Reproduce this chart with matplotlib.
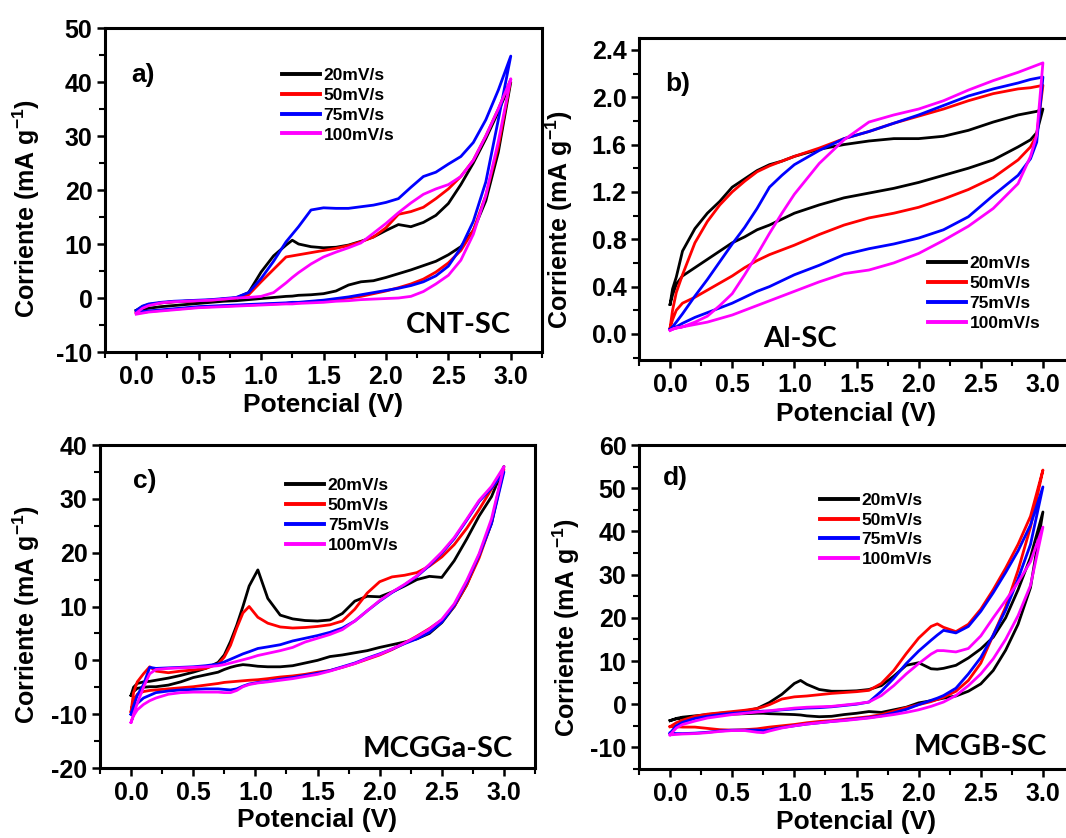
import numpy as np
import matplotlib
matplotlib.use("Agg")
import matplotlib.pyplot as plt
from matplotlib.ticker import MultipleLocator, FormatStrFormatter

# ---------------- data ----------------
rates = ["20mV/s", "50mV/s", "75mV/s", "100mV/s"]
colors = ["#000000", "#ff0000", "#0000ff", "#ff00ff"]

# panel a) CNT-SC
Ea = [0, 0.05, 0.1, 0.2, 0.3, 0.4, 0.5, 0.6, 0.7, 0.8, 0.9, 1.0, 1.1, 1.2, 1.25, 1.3, 1.4, 1.5, 1.6,
      1.7, 1.8, 1.9, 2.0, 2.1, 2.2, 2.3, 2.4, 2.5, 2.6, 2.7, 2.8, 2.9, 3.0]
a20_up = [-2.3, -1.6, -1.2, -0.9, -0.7, -0.6, -0.5, -0.4, -0.2, 0.0, 1.0, 4.8, 7.8, 9.8, 10.7, 10.0, 9.5, 9.3, 9.4,
          9.8, 10.5, 11.3, 12.5, 13.6, 13.2, 14.0, 15.3, 17.5, 21.0, 25.0, 29.5, 34.5, 40.0]
a20_lo = [-2.3, -2.1, -1.9, -1.6, -1.4, -1.2, -1.0, -0.8, -0.6, -0.5, -0.3, -0.1, 0.1, 0.3, 0.35, 0.5, 0.6, 0.8, 1.3,
          2.4, 3.0, 3.2, 3.8, 4.5, 5.2, 6.0, 6.8, 8.0, 9.5, 12.5, 18.0, 27.0, 40.0]
a50_up = [-2.6, -1.8, -1.3, -0.9, -0.7, -0.6, -0.5, -0.4, -0.2, 0.0, 0.6, 3.0, 5.3, 7.6, 7.8, 8.0, 8.4, 8.8, 9.2,
          9.7, 10.4, 11.3, 13.0, 15.5, 16.0, 16.8, 18.4, 20.2, 22.5, 25.5, 30.0, 35.0, 40.5]
a50_lo = [-2.8, -2.7, -2.5, -2.3, -2.1, -1.9, -1.7, -1.6, -1.5, -1.4, -1.3, -1.2, -1.1, -1.0, -0.9, -0.9, -0.7, -0.5, -0.3,
          0.0, 0.3, 0.8, 1.3, 1.9, 2.6, 3.5, 4.8, 6.5, 8.8, 12.5, 19.0, 28.0, 40.5]
a75_up = [-2.3, -1.5, -1.1, -0.8, -0.6, -0.5, -0.4, -0.3, -0.1, 0.1, 1.0, 3.6, 6.8, 10.4, 11.8, 13.2, 16.3, 16.7, 16.6,
          16.6, 16.9, 17.2, 17.7, 18.4, 20.5, 22.5, 23.3, 24.8, 26.2, 28.8, 33.0, 38.5, 44.8]
a75_lo = [-2.6, -2.5, -2.4, -2.2, -2.0, -1.8, -1.6, -1.5, -1.4, -1.3, -1.2, -1.1, -1.0, -0.9, -0.8, -0.8, -0.6, -0.4, -0.1,
          0.2, 0.6, 1.0, 1.4, 1.8, 2.3, 3.0, 4.1, 5.9, 9.3, 14.2, 21.5, 33.0, 44.8]
a100_up = [-2.8, -1.9, -1.4, -0.9, -0.7, -0.6, -0.5, -0.4, -0.2, 0.0, 0.1, 0.3, 1.0, 2.8, 3.8, 4.7, 6.3, 7.6, 8.5,
           9.3, 10.2, 12.0, 13.8, 15.8, 17.6, 19.2, 20.2, 21.0, 22.5, 25.5, 30.0, 35.0, 40.5]
a100_lo = [-3.0, -2.8, -2.6, -2.4, -2.2, -2.0, -1.8, -1.7, -1.6, -1.5, -1.4, -1.3, -1.2, -1.1, -1.1, -1.0, -0.9, -0.8, -0.6,
           -0.5, -0.3, -0.2, -0.1, 0.0, 0.3, 1.2, 2.6, 4.2, 7.0, 11.8, 19.0, 29.0, 40.6]

# panel b) Al-SC
Eb = [0, 0.02, 0.05, 0.1, 0.2, 0.3, 0.4, 0.5, 0.6, 0.7, 0.8, 0.9, 1.0, 1.2, 1.4, 1.6, 1.8, 2.0, 2.2, 2.4,
      2.6, 2.8, 2.9, 2.95, 3.0]
b20_up = [0.25, 0.38, 0.48, 0.70, 0.89, 1.02, 1.12, 1.24, 1.31, 1.38, 1.43, 1.46, 1.50, 1.56, 1.60, 1.63, 1.65, 1.65,
          1.67, 1.72, 1.79, 1.85, 1.87, 1.88, 1.90]
b20_lo = [0.25, 0.33, 0.42, 0.49, 0.56, 0.63, 0.70, 0.77, 0.82, 0.88, 0.92, 0.97, 1.02, 1.09, 1.15, 1.19, 1.23, 1.28,
          1.34, 1.40, 1.47, 1.58, 1.64, 1.70, 1.90]
b50_up = [0.05, 0.20, 0.35, 0.50, 0.77, 0.95, 1.09, 1.20, 1.29, 1.37, 1.42, 1.46, 1.50, 1.57, 1.65, 1.71, 1.78, 1.84,
          1.90, 1.97, 2.03, 2.07, 2.08, 2.09, 2.10]
b50_lo = [0.05, 0.12, 0.20, 0.26, 0.31, 0.37, 0.43, 0.49, 0.56, 0.62, 0.67, 0.71, 0.75, 0.84, 0.92, 0.98, 1.02, 1.07,
          1.14, 1.22, 1.32, 1.47, 1.58, 1.68, 2.10]
b75_up = [0.04, 0.06, 0.10, 0.17, 0.32, 0.46, 0.61, 0.76, 0.90, 1.06, 1.24, 1.34, 1.43, 1.55, 1.65, 1.71, 1.78, 1.85,
          1.93, 2.01, 2.07, 2.12, 2.15, 2.16, 2.17]
b75_lo = [0.04, 0.05, 0.06, 0.09, 0.14, 0.18, 0.22, 0.26, 0.31, 0.36, 0.40, 0.45, 0.50, 0.58, 0.67, 0.72, 0.76, 0.81,
          0.88, 0.99, 1.17, 1.34, 1.48, 1.62, 2.17]
b100_up = [0.03, 0.04, 0.05, 0.06, 0.10, 0.15, 0.24, 0.34, 0.50, 0.67, 0.85, 1.02, 1.18, 1.44, 1.64, 1.79, 1.85, 1.90,
           1.97, 2.06, 2.14, 2.21, 2.25, 2.27, 2.29]
b100_lo = [0.03, 0.04, 0.05, 0.06, 0.08, 0.10, 0.13, 0.16, 0.20, 0.24, 0.28, 0.32, 0.36, 0.44, 0.51, 0.54, 0.60, 0.68,
           0.79, 0.91, 1.06, 1.27, 1.50, 1.68, 2.29]

# panel c) MCGGa-SC
Ec = [0, 0.02, 0.05, 0.1, 0.15, 0.2, 0.3, 0.4, 0.5, 0.6, 0.7, 0.75, 0.8, 0.85, 0.9, 0.95, 1.02, 1.1, 1.2, 1.3,
      1.4, 1.5, 1.6, 1.7, 1.8, 1.9, 2.0, 2.1, 2.2, 2.3, 2.4, 2.5, 2.6, 2.7, 2.8, 2.9, 3.0]
c20_up = [-6.5, -5.0, -4.3, -4.0, -3.9, -3.7, -3.3, -2.8, -2.2, -1.5, -0.4, 1.0, 3.5, 6.5, 10.0, 13.8, 16.8, 11.5,
          8.4, 7.7, 7.4, 7.3, 7.5, 8.7, 11.0, 11.9, 11.8, 12.7, 13.8, 15.0, 15.6, 15.4, 18.5, 22.5, 26.8, 30.4, 36.0]
c20_lo = [-6.5, -5.8, -5.2, -5.0, -4.9, -4.9, -4.6, -4.0, -3.2, -2.7, -2.2, -1.7, -1.3, -1.0, -0.8, -0.9, -1.1, -1.2,
          -1.2, -1.0, -0.5, 0.0, 0.7, 1.0, 1.4, 1.8, 2.4, 2.9, 3.4, 4.0, 5.0, 7.0, 10.0, 14.0, 19.5, 25.5, 36.0]
c50_up = [-9.5, -6.0, -4.0, -2.5, -1.2, -2.0, -2.3, -2.0, -1.8, -1.5, -0.7, 0.6, 2.8, 6.0, 8.8, 10.0, 8.0, 6.9,
          6.2, 6.0, 6.1, 6.3, 6.6, 7.3, 9.5, 12.5, 14.6, 15.5, 15.8, 16.3, 17.5, 19.2, 21.5, 24.5, 28.0, 31.8, 35.5]
c50_lo = [-9.5, -7.5, -6.3, -5.8, -5.6, -5.5, -5.3, -5.1, -4.9, -4.6, -4.3, -4.1, -4.0, -3.9, -3.8, -3.7, -3.6, -3.4,
          -3.1, -2.9, -2.6, -2.2, -1.9, -1.3, -0.6, 0.2, 1.0, 2.0, 3.2, 4.5, 5.9, 7.5, 10.0, 14.0, 19.0, 25.5, 35.5]
c75_up = [-10.0, -8.5, -6.5, -4.5, -1.3, -1.5, -1.4, -1.3, -1.2, -1.0, -0.7, -0.3, 0.2, 0.7, 1.2, 1.6, 2.2, 2.5,
          2.9, 3.6, 4.1, 4.6, 5.2, 6.0, 7.3, 9.2, 11.0, 12.6, 14.0, 15.6, 17.6, 19.9, 22.6, 26.0, 29.5, 32.0, 35.0]
c75_lo = [-10.0, -9.0, -8.0, -7.0, -6.5, -6.0, -5.7, -5.5, -5.4, -5.3, -5.3, -5.4, -5.5, -5.3, -4.8, -4.4, -4.1, -3.9,
          -3.5, -3.2, -2.8, -2.4, -1.9, -1.2, -0.5, 0.4, 1.2, 2.1, 3.1, 4.0, 5.2, 7.1, 10.2, 14.5, 19.5, 25.4, 35.0]
c100_up = [-11.5, -10.0, -8.0, -5.0, -2.5, -1.7, -1.5, -1.4, -1.3, -1.2, -1.0, -0.8, -0.5, -0.2, 0.1, 0.4, 0.9, 1.3,
           1.8, 2.4, 3.4, 4.1, 4.8, 5.7, 7.3, 9.2, 11.1, 12.7, 14.1, 15.7, 17.8, 20.1, 22.8, 26.2, 29.7, 32.3, 36.0]
c100_lo = [-11.5, -10.3, -9.2, -8.2, -7.5, -7.0, -6.3, -6.0, -5.9, -5.9, -5.9, -6.0, -6.0, -5.6, -4.9, -4.5, -4.2, -4.0,
           -3.7, -3.4, -3.0, -2.6, -2.0, -1.3, -0.6, 0.3, 1.1, 2.1, 3.2, 4.4, 5.8, 7.6, 10.5, 14.8, 19.8, 26.3, 36.0]

# panel d) MCGB-SC
Ed = [0, 0.05, 0.1, 0.2, 0.3, 0.4, 0.5, 0.6, 0.7, 0.75, 0.8, 0.9, 1.0, 1.05, 1.1, 1.2, 1.3, 1.4, 1.5, 1.6,
      1.7, 1.8, 1.9, 2.0, 2.1, 2.15, 2.2, 2.3, 2.4, 2.5, 2.6, 2.7, 2.8, 2.9, 3.0]
d20_up = [-3.8, -3.3, -3.0, -2.7, -2.4, -2.1, -1.9, -1.6, -1.0, -0.3, 0.4, 2.3, 4.8, 5.5, 4.6, 3.4, 3.0, 3.0, 3.1, 3.4,
          4.3, 6.5, 9.0, 9.6, 8.2, 8.1, 8.3, 9.0, 10.7, 12.8, 15.5, 20.0, 26.5, 34.0, 44.5]
d20_lo = [-3.8, -3.4, -3.2, -2.9, -2.7, -2.5, -2.3, -2.2, -2.1, -2.1, -2.2, -2.3, -2.4, -2.5, -2.7, -2.9, -2.8, -2.4,
          -2.1, -1.7, -1.9, -1.3, -0.7, 0.3, 0.8, 1.1, 1.4, 1.9, 3.0, 4.7, 7.8, 12.5, 18.5, 27.0, 44.5]
d50_up = [-5.2, -4.3, -3.7, -2.8, -2.3, -2.0, -1.7, -1.4, -1.0, -0.6, -0.1, 1.2, 1.7, 1.8, 1.9, 2.2, 2.5, 2.7, 2.9, 3.2,
          4.8, 7.8, 11.7, 15.3, 18.0, 18.6, 17.8, 16.8, 18.5, 22.0, 26.5, 31.5, 37.0, 43.5, 54.2]
d50_lo = [-5.2, -5.2, -5.3, -5.3, -5.6, -5.9, -6.0, -5.9, -5.7, -5.5, -5.3, -5.0, -4.7, -4.5, -4.3, -4.0, -3.8, -3.5,
          -3.2, -2.9, -2.4, -1.6, -0.8, -0.1, 0.6, 1.1, 1.6, 3.0, 5.5, 9.5, 16.0, 22.5, 31.0, 41.0, 54.2]
d75_up = [-6.7, -5.0, -4.2, -3.3, -2.8, -2.4, -2.1, -1.9, -1.7, -1.6, -1.6, -1.3, -1.1, -1.0, -0.9, -0.8, -0.6, -0.3,
          0.0, 0.5, 3.0, 6.0, 9.4, 12.3, 14.8, 16.0, 17.1, 16.5, 18.0, 21.5, 25.8, 30.5, 35.5, 41.5, 50.3]
d75_lo = [-6.7, -6.8, -6.8, -6.7, -6.5, -6.2, -6.0, -6.0, -6.0, -6.1, -5.9, -5.4, -5.0, -4.8, -4.6, -4.3, -4.0, -3.7,
          -3.4, -3.1, -2.7, -2.0, -1.2, -0.1, 0.9, 1.4, 2.0, 3.7, 7.0, 10.8, 16.0, 21.8, 29.0, 37.0, 50.3]
d100_up = [-7.1, -5.5, -4.7, -3.9, -3.2, -2.8, -2.4, -2.1, -1.8, -1.7, -1.5, -1.2, -0.9, -0.8, -0.7, -0.6, -0.5, -0.2,
           0.1, 0.5, 2.0, 4.3, 7.0, 9.4, 11.6, 12.4, 12.4, 12.1, 12.9, 15.8, 20.0, 24.0, 28.2, 33.0, 41.0]
d100_lo = [-7.1, -7.0, -6.9, -6.8, -6.6, -6.3, -6.1, -6.1, -6.5, -6.6, -6.2, -5.5, -5.0, -4.8, -4.6, -4.3, -4.0, -3.8,
           -3.5, -3.2, -2.8, -2.4, -1.9, -1.3, -0.5, 0.0, 0.5, 2.0, 4.3, 7.0, 10.5, 15.0, 20.5, 27.5, 41.0]

x_ticks = [0.0, 0.5, 1.0, 1.5, 2.0, 2.5, 3.0]

# ---------------- style ----------------
plt.rcParams["font.family"] = ["Liberation Sans", "DejaVu Sans"]
plt.rcParams["font.weight"] = "bold"
plt.rcParams["axes.labelweight"] = "bold"
plt.rcParams["mathtext.fontset"] = "custom"
plt.rcParams["mathtext.rm"] = "Liberation Sans:bold"
plt.rcParams["mathtext.it"] = "Liberation Sans:bold"
plt.rcParams["mathtext.bf"] = "Liberation Sans:bold"

W, H = 1066, 838
fig = plt.figure(figsize=(W / 100, H / 100), dpi=100)


def rect(l, t, r, b):
    return [l / W, 1 - b / H, (r - l) / W, (b - t) / H]


panels = [
    dict(rect=rect(105, 28, 542, 352), E=Ea, ups=[a20_up, a50_up, a75_up, a100_up],
         los=[a20_lo, a50_lo, a75_lo, a100_lo], ylim=(-10, 50), ymaj=10, ymin=5, yfmt="%d",
         letter="a)", lpos=(0.06, 0.855), name="CNT-SC", npos=(0.93, 0.058), nha="right",
         leg=(0.405, 0.877), ylc=(-0.145, 0.444), xlc=-0.125),
    dict(rect=rect(639, 38, 1074, 360), E=Eb, ups=[b20_up, b50_up, b75_up, b100_up],
         los=[b20_lo, b50_lo, b75_lo, b100_lo], ylim=(-0.22, 2.5), ymaj=0.4, ymin=0.2, yfmt="%.1f",
         letter="b)", lpos=(0.06, 0.857), name="Al-SC", npos=(0.285, 0.04), nha="left",
         leg=(0.664, 0.322), ylc=(-0.148, 0.435), xlc=-0.13),
    dict(rect=rect(100, 445, 535, 768), E=Ec, ups=[c20_up, c50_up, c75_up, c100_up],
         los=[c20_lo, c50_lo, c75_lo, c100_lo], ylim=(-20, 40), ymaj=10, ymin=5, yfmt="%d",
         letter="c)", lpos=(0.075, 0.89), name="MCGGa-SC", npos=(0.949, 0.034), nha="right",
         leg=(0.428, 0.897), ylc=(-0.133, 0.474), xlc=-0.125),
    dict(rect=rect(639, 445, 1074, 769), E=Ed, ups=[d20_up, d50_up, d75_up, d100_up],
         los=[d20_lo, d50_lo, d75_lo, d100_lo], ylim=(-15, 60), ymaj=10, ymin=5, yfmt="%d",
         letter="d)", lpos=(0.055, 0.898), name="MCGB-SC", npos=(0.938, 0.043), nha="right",
         leg=(0.416, 0.853), ylc=(-0.13, 0.438), xlc=-0.125),
]

for p in panels:
    ax = fig.add_axes(p["rect"])
    E = np.array(p["E"], dtype=float)
    for col, lab, up, lo in zip(colors, rates, p["ups"], p["los"]):
        x = np.concatenate([E, E[::-1]])
        y = np.concatenate([np.array(up, float), np.array(lo, float)[::-1]])
        ax.plot(x, y, color=col, lw=2.0, label=lab, solid_joinstyle="round")
    ax.set_xlim(-0.25, 3.25)
    ax.set_ylim(*p["ylim"])
    ax.set_xticks(x_ticks)
    ax.xaxis.set_major_formatter(FormatStrFormatter("%.1f"))
    ax.xaxis.set_minor_locator(MultipleLocator(0.25))
    ax.yaxis.set_major_locator(MultipleLocator(p["ymaj"]))
    ax.yaxis.set_minor_locator(MultipleLocator(p["ymin"]))
    ax.yaxis.set_major_formatter(FormatStrFormatter(p["yfmt"]))
    ax.tick_params(which="major", direction="out", length=6, width=1.8, labelsize=18, pad=3)
    ax.tick_params(which="minor", direction="out", length=4, width=1.5)
    for s in ax.spines.values():
        s.set_linewidth(2.2)
    ax.set_xlabel("Potencial (V)", fontsize=19, fontweight="bold")
    ax.set_ylabel(r"Corriente (mA g$^{-1}$)", fontsize=18, fontweight="bold")
    ax.xaxis.set_label_coords(0.5, p["xlc"])
    ax.yaxis.set_label_coords(*p["ylc"])
    ax.text(p["lpos"][0], p["lpos"][1], p["letter"], transform=ax.transAxes, fontsize=19,
            fontweight="bold", va="center", ha="left")
    ax.text(p["npos"][0], p["npos"][1], p["name"], transform=ax.transAxes, fontsize=21,
            fontweight="bold", family="Lato", va="baseline", ha=p["nha"])
    leg = ax.legend(loc="upper left", bbox_to_anchor=p["leg"], frameon=False,
                    prop={"weight": "bold", "size": 12.5}, handlelength=2.2, handletextpad=0.2,
                    labelspacing=0.27, borderpad=0, borderaxespad=0)
    for h in leg.get_lines():
        h.set_linewidth(2.8)

fig.savefig("out.png", dpi=100)
